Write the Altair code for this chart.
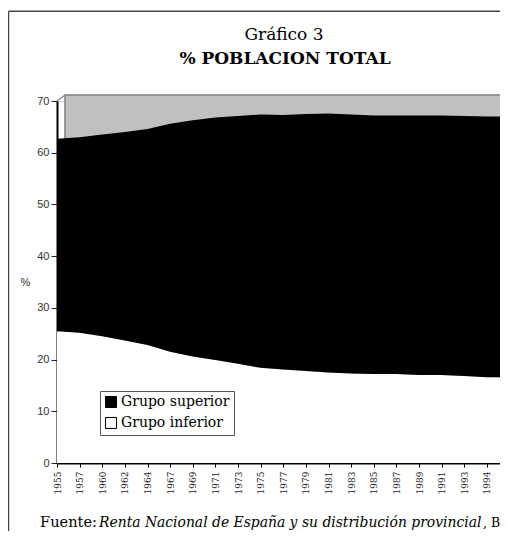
import json
import altair as alt
import pandas as pd

# ---- data ----
years = ["1955", "1957", "1960", "1962", "1964", "1967", "1969", "1971", "1973",
         "1975", "1977", "1979", "1981", "1983", "1985", "1987", "1989", "1991",
         "1993", "1994", "1995"]
# upper edge of the white band (Grupo inferior), in %
grupo_inferior = [25.5, 25.2, 24.5, 23.7, 22.8, 21.5, 20.6, 19.9, 19.2, 18.4,
                  18.1, 17.8, 17.5, 17.3, 17.2, 17.2, 17.0, 17.0, 16.8, 16.6, 16.6]
# upper edge of the black band (Grupo superior), in %
grupo_superior_hasta = [62.7, 63.0, 63.5, 64.0, 64.6, 65.6, 66.3, 66.8, 67.1, 67.4,
                        67.3, 67.5, 67.6, 67.4, 67.2, 67.2, 67.2, 67.2, 67.1, 67.0, 67.0]
y_ticks = [0, 10, 20, 30, 40, 50, 60, 70]
series = ["Grupo superior", "Grupo inferior"]
series_colors = ["#000000", "#ffffff"]

# 3-D depth of the Excel chart, in data units (categories / %)
depth_x = 0.35
depth_y = 1.16

rows = []
for i, yr in enumerate(years):
    rows.append({"i": i, "serie": "Grupo inferior", "desde": 0, "hasta": grupo_inferior[i]})
    rows.append({"i": i, "serie": "Grupo superior", "desde": grupo_inferior[i],
                 "hasta": grupo_superior_hasta[i]})
df = pd.DataFrame(rows)

n = len(years) - 1
# the original chart runs past the right edge of the picture: the last
# category sits just beyond the visible plot width
x_scale = alt.Scale(domain=[0, n], range=[0, 452.6], nice=False, zero=False)
y_scale = alt.Scale(domain=[0, 70], nice=False, zero=True)
label_expr = json.dumps(years) + "[datum.value]"

x_axis = alt.Axis(values=list(range(len(years))), labelExpr=label_expr,
                  labelAngle=270, labelFont="DejaVu Serif", labelFontSize=9,
                  labelColor="#222222", labelPadding=4, labelFlush=False,
                  labelOverlap=False, tickSize=4, tickColor="#000000",
                  domainColor="#000000", domainWidth=2, grid=False)
y_axis = alt.Axis(values=y_ticks, labelFont="Liberation Sans", labelFontSize=11,
                  labelColor="#333333", labelPadding=2, tickSize=6,
                  tickColor="#222222", domainColor="#000000", domainWidth=2,
                  grid=False, titleAngle=0, titleX=-32, titleY=181,
                  titleAlign="center", titleBaseline="middle",
                  titleFont="Liberation Sans", titleFontSize=11,
                  titleFontWeight="normal", titleColor="#333333")

wall_df = pd.DataFrame({"x0": [depth_x], "x1": [n + 1], "y0": [depth_y], "y1": [70 + depth_y]})
wall = alt.Chart(wall_df).mark_rect(fill="#c0c0c0", stroke="#808080", strokeWidth=1.5).encode(
    x=alt.X("x0:Q", scale=x_scale, axis=x_axis, title=None),
    x2="x1:Q",
    y=alt.Y("y0:Q", scale=y_scale, axis=y_axis, title="%"),
    y2="y1:Q",
)

edge_df = pd.DataFrame({"x0": [0], "x1": [depth_x], "y0": [70], "y1": [70 + depth_y]})
edge = alt.Chart(edge_df).mark_rule(color="#808080", strokeWidth=1.2).encode(
    x=alt.X("x0:Q", scale=x_scale, axis=x_axis, title=None),
    x2="x1:Q",
    y=alt.Y("y0:Q", scale=y_scale, axis=y_axis, title="%"),
    y2="y1:Q",
)

areas = alt.Chart(df).mark_area(interpolate="linear").encode(
    x=alt.X("i:Q", scale=x_scale, axis=x_axis, title=None),
    y=alt.Y("hasta:Q", scale=y_scale, stack=False, axis=y_axis, title="%"),
    y2="desde:Q",
    color=alt.Color("serie:N",
                    scale=alt.Scale(domain=series, range=series_colors),
                    legend=alt.Legend(title=None, orient="none", legendX=43, legendY=290,
                                      direction="vertical", symbolType="square",
                                      symbolSize=121, symbolStrokeColor="#000000",
                                      symbolStrokeWidth=1, labelFont="DejaVu Serif",
                                      labelFontSize=14, labelColor="#000000",
                                      strokeColor="#555555", fillColor="#ffffff",
                                      padding=4, rowPadding=5, labelOffset=3)),
)

one = pd.DataFrame({"k": [0]})
frame_left = alt.Chart(one).mark_rule(color="#444444", strokeWidth=1.5).encode(
    x=alt.value(-48.5), y=alt.value(-89.8), y2=alt.value(480))
frame_top = alt.Chart(one).mark_rule(color="#444444", strokeWidth=1.5).encode(
    x=alt.value(-48.5), x2=alt.value(460), y=alt.value(-89.8))

title1 = alt.Chart(one).mark_text(font="DejaVu Serif", fontSize=17, align="center",
                                  baseline="alphabetic", color="#000000").encode(
    x=alt.value(227), y=alt.value(-61.5), text=alt.value("Gráfico 3"))
title2 = alt.Chart(one).mark_text(font="DejaVu Serif", fontSize=17, fontWeight="bold",
                                  align="center", baseline="alphabetic",
                                  color="#000000").encode(
    x=alt.value(228), y=alt.value(-37.5), text=alt.value("% POBLACION TOTAL"))

foot1 = alt.Chart(one).mark_text(font="DejaVu Serif", fontSize=14.6, align="left",
                                 baseline="alphabetic", color="#000000").encode(
    x=alt.value(-17), y=alt.value(426), text=alt.value("Fuente:"))
foot2 = alt.Chart(one).mark_text(font="DejaVu Serif", fontSize=13.9, fontStyle="italic",
                                 align="left", baseline="alphabetic", color="#000000").encode(
    x=alt.value(42), y=alt.value(426),
    text=alt.value("Renta Nacional de España y su distribución provincial"))
foot3 = alt.Chart(one).mark_text(font="DejaVu Serif", fontSize=12.5, align="left",
                                 baseline="alphabetic", color="#000000").encode(
    x=alt.value(426), y=alt.value(426), text=alt.value(", BBV"))

chart = alt.layer(wall, edge, areas, frame_left, frame_top, title1, title2,
                  foot1, foot2, foot3).properties(
    width=443, height=362,
    autosize=alt.AutoSizeParams(type="none"),
    padding={"left": 49, "top": 93, "right": 0, "bottom": 68},
).configure_view(strokeWidth=0).configure(background="#ffffff")

chart.save("out.html", embed_options={"renderer": "svg", "actions": False})
